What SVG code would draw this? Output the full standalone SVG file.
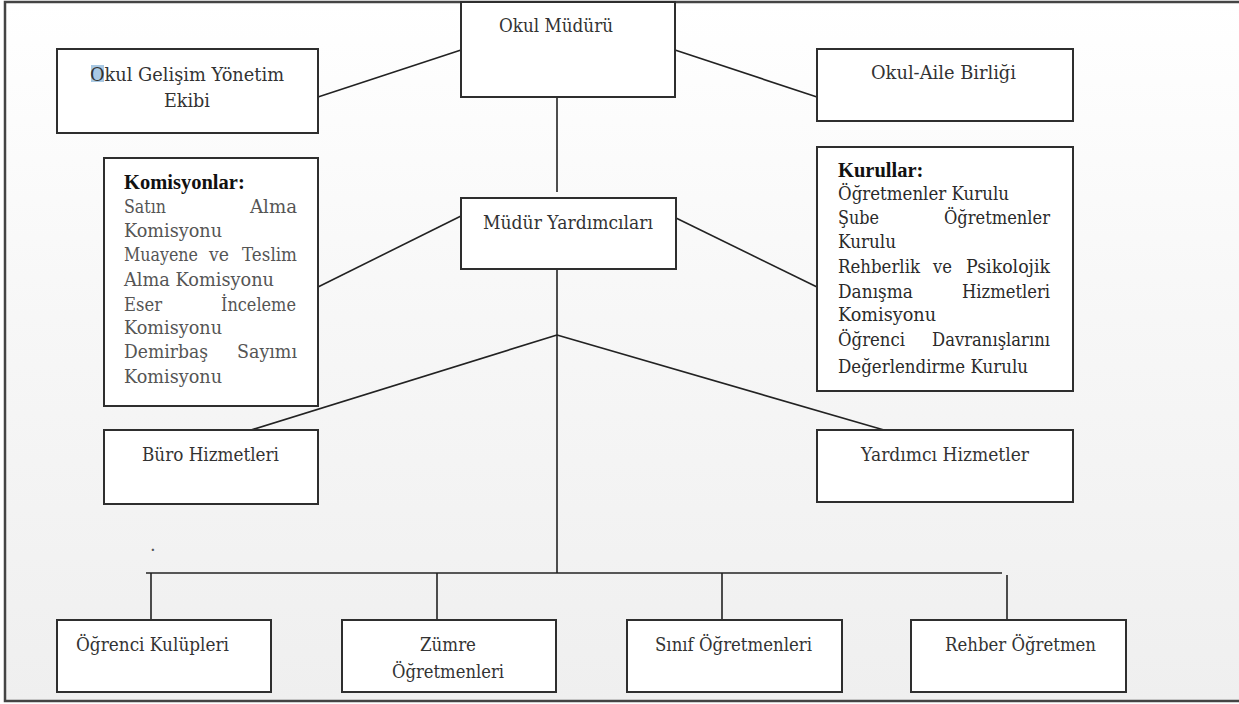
<svg xmlns="http://www.w3.org/2000/svg" width="1239" height="704" viewBox="0 0 1239 704">
<defs>
<linearGradient id="bg" x1="0" y1="0" x2="0" y2="1">
<stop offset="0" stop-color="#ffffff"/>
<stop offset="0.45" stop-color="#f7f7f7"/>
<stop offset="1" stop-color="#efefef"/>
</linearGradient>
</defs>
<style>
.box{fill:#ffffff;stroke:#2e2e2e;stroke-width:2}
.ln{stroke:#222222;stroke-width:1.6;fill:none}
.t{font-family:"DejaVu Serif",serif;font-size:18px;fill:#333333}
.b{font-family:"Liberation Serif",serif;font-size:20.5px;font-weight:bold;fill:#111111}
.g{fill:#555555}
.k{fill:#2a2a2a}
</style>
<rect x="0" y="0" width="1239" height="704" fill="#ffffff"/>
<rect x="5" y="2" width="1240" height="699" fill="url(#bg)"/>
<path d="M1245,2 H5 V701 H1245" fill="none" stroke="#444444" stroke-width="2.5"/>

<g id="connectors">
<line class="ln" x1="318" y1="97" x2="461" y2="50"/>
<line class="ln" x1="675" y1="50" x2="817" y2="97"/>
<line class="ln" x1="557" y1="97" x2="557" y2="192"/>
<line class="ln" x1="318" y1="287" x2="461" y2="216"/>
<line class="ln" x1="676" y1="218" x2="817" y2="287"/>
<line class="ln" x1="557" y1="265" x2="557" y2="573"/>
<line class="ln" x1="557" y1="335" x2="251" y2="430"/>
<line class="ln" x1="557" y1="335" x2="884" y2="430"/>
<line class="ln" x1="146" y1="573" x2="1002" y2="573"/>
<line class="ln" x1="151" y1="573" x2="151" y2="620"/>
<line class="ln" x1="437" y1="573" x2="437" y2="620"/>
<line class="ln" x1="722" y1="573" x2="722" y2="620"/>
<line class="ln" x1="1007" y1="575" x2="1007" y2="620"/>
</g>

<g id="okul-muduru">
<rect class="box" x="461" y="2" width="214" height="95"/>
<text class="t" x="499" y="32" textLength="114" lengthAdjust="spacingAndGlyphs">Okul Müdürü</text>
</g>

<g id="okul-gelisim">
<rect class="box" x="57" y="49" width="261" height="84"/>
<rect x="91" y="65" width="13" height="17" fill="#a9c9e4"/>
<text class="t" x="90" y="81" textLength="194" lengthAdjust="spacingAndGlyphs">Okul Gelişim Yönetim</text>
<text class="t" x="164" y="107" textLength="46" lengthAdjust="spacingAndGlyphs">Ekibi</text>
</g>

<g id="okul-aile">
<rect class="box" x="817" y="49" width="256" height="72"/>
<text class="t" x="871" y="79" textLength="145" lengthAdjust="spacingAndGlyphs">Okul-Aile Birliği</text>
</g>

<g id="komisyonlar">
<rect class="box" x="104" y="158" width="214" height="248"/>
<text class="b" x="124" y="189">Komisyonlar:</text>
<text class="t g" x="124" y="213" textLength="42" lengthAdjust="spacingAndGlyphs">Satın</text>
<text class="t g" x="250" y="213" textLength="47" lengthAdjust="spacingAndGlyphs">Alma</text>
<text class="t g" x="124" y="237" textLength="98" lengthAdjust="spacingAndGlyphs">Komisyonu</text>
<text class="t g" x="124" y="261" textLength="74" lengthAdjust="spacingAndGlyphs">Muayene</text>
<text class="t g" x="209" y="261" textLength="20" lengthAdjust="spacingAndGlyphs">ve</text>
<text class="t g" x="242" y="261" textLength="55" lengthAdjust="spacingAndGlyphs">Teslim</text>
<text class="t g" x="124" y="286" textLength="150" lengthAdjust="spacingAndGlyphs">Alma Komisyonu</text>
<text class="t g" x="124" y="311" textLength="38" lengthAdjust="spacingAndGlyphs">Eser</text>
<text class="t g" x="221" y="311" textLength="75" lengthAdjust="spacingAndGlyphs">İnceleme</text>
<text class="t g" x="124" y="334" textLength="98" lengthAdjust="spacingAndGlyphs">Komisyonu</text>
<text class="t g" x="124" y="358" textLength="84" lengthAdjust="spacingAndGlyphs">Demirbaş</text>
<text class="t g" x="237" y="358" textLength="60" lengthAdjust="spacingAndGlyphs">Sayımı</text>
<text class="t g" x="124" y="383" textLength="98" lengthAdjust="spacingAndGlyphs">Komisyonu</text>
</g>

<g id="mudur-yardimcilari">
<rect class="box" x="461" y="198" width="215" height="71"/>
<text class="t" x="483" y="229" textLength="170" lengthAdjust="spacingAndGlyphs">Müdür Yardımcıları</text>
</g>

<g id="kurullar">
<rect class="box" x="817" y="147" width="256" height="244"/>
<text class="b" x="838" y="177">Kurullar:</text>
<text class="t k" x="838" y="200" textLength="171" lengthAdjust="spacingAndGlyphs">Öğretmenler Kurulu</text>
<text class="t k" x="838" y="224" textLength="41" lengthAdjust="spacingAndGlyphs">Şube</text>
<text class="t k" x="944" y="224" textLength="106" lengthAdjust="spacingAndGlyphs">Öğretmenler</text>
<text class="t k" x="838" y="248" textLength="58" lengthAdjust="spacingAndGlyphs">Kurulu</text>
<text class="t k" x="838" y="273" textLength="82" lengthAdjust="spacingAndGlyphs">Rehberlik</text>
<text class="t k" x="933" y="273" textLength="19" lengthAdjust="spacingAndGlyphs">ve</text>
<text class="t k" x="966" y="273" textLength="84" lengthAdjust="spacingAndGlyphs">Psikolojik</text>
<text class="t k" x="838" y="298" textLength="75" lengthAdjust="spacingAndGlyphs">Danışma</text>
<text class="t k" x="962" y="298" textLength="88" lengthAdjust="spacingAndGlyphs">Hizmetleri</text>
<text class="t k" x="838" y="321" textLength="98" lengthAdjust="spacingAndGlyphs">Komisyonu</text>
<text class="t k" x="838" y="346" textLength="67" lengthAdjust="spacingAndGlyphs">Öğrenci</text>
<text class="t k" x="932" y="346" textLength="118" lengthAdjust="spacingAndGlyphs">Davranışlarını</text>
<text class="t k" x="838" y="373" textLength="190" lengthAdjust="spacingAndGlyphs">Değerlendirme Kurulu</text>
</g>

<g id="buro-hizmetleri">
<rect class="box" x="104" y="430" width="214" height="74"/>
<text class="t" x="142" y="461" textLength="137" lengthAdjust="spacingAndGlyphs">Büro Hizmetleri</text>
</g>

<g id="yardimci-hizmetler">
<rect class="box" x="817" y="430" width="256" height="72"/>
<text class="t" x="861" y="461" textLength="168" lengthAdjust="spacingAndGlyphs">Yardımcı Hizmetler</text>
</g>

<text class="t g" x="150" y="551" font-size="10">.</text>

<g id="ogrenci-kulupleri">
<rect class="box" x="57" y="620" width="214" height="72"/>
<text class="t" x="76" y="651" textLength="153" lengthAdjust="spacingAndGlyphs">Öğrenci Kulüpleri</text>
</g>

<g id="zumre-ogretmenleri">
<rect class="box" x="342" y="620" width="214" height="72"/>
<text class="t" x="420" y="651" textLength="56" lengthAdjust="spacingAndGlyphs">Zümre</text>
<text class="t" x="392" y="678" textLength="112" lengthAdjust="spacingAndGlyphs">Öğretmenleri</text>
</g>

<g id="sinif-ogretmenleri">
<rect class="box" x="627" y="620" width="215" height="72"/>
<text class="t" x="655" y="651" textLength="157" lengthAdjust="spacingAndGlyphs">Sınıf Öğretmenleri</text>
</g>

<g id="rehber-ogretmen">
<rect class="box" x="911" y="620" width="215" height="72"/>
<text class="t" x="945" y="651" textLength="151" lengthAdjust="spacingAndGlyphs">Rehber Öğretmen</text>
</g>
</svg>
